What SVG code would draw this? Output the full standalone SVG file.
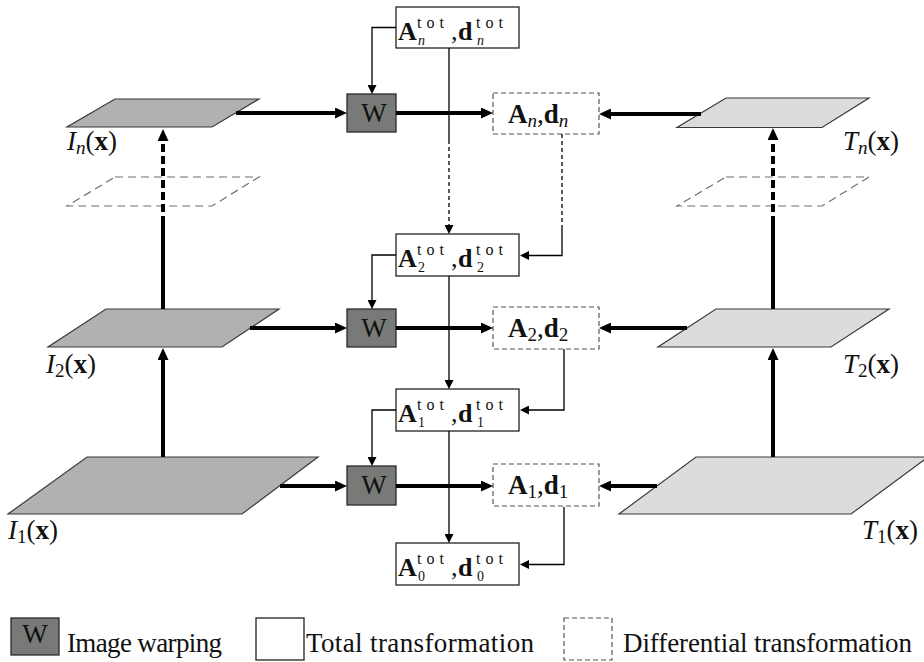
<svg xmlns="http://www.w3.org/2000/svg" width="924" height="662" viewBox="0 0 924 662">
<style>
text{font-family:"Liberation Serif","Times New Roman",serif;fill:#111}
.img{fill:#b2b0b3;stroke:#3a3a3a;stroke-width:1.2}
.tpl{fill:#dcdbdd;stroke:#3a3a3a;stroke-width:1.2}
.ghost{fill:none;stroke:#6e6e6e;stroke-width:1.2;stroke-dasharray:8 5}
.tot{fill:#fff;stroke:#222;stroke-width:1.3}
.diff{fill:#fff;stroke:#555;stroke-width:1.2;stroke-dasharray:5 3}
.w{fill:#777a76;stroke:#2a2a2a;stroke-width:1.3}
.thick{fill:none;stroke:#000;stroke-width:4;marker-end:url(#ah)}
.thickd{fill:none;stroke:#000;stroke-width:4;stroke-dasharray:8 4;marker-end:url(#ah)}
.thickp{fill:none;stroke:#000;stroke-width:4}
.thin{fill:none;stroke:#000;stroke-width:1.3;marker-end:url(#at)}
.thinp{fill:none;stroke:#000;stroke-width:1.3}
.thind{fill:none;stroke:#000;stroke-width:1.3;stroke-dasharray:4 3;marker-end:url(#at)}
.thindp{fill:none;stroke:#000;stroke-width:1.3;stroke-dasharray:4 3}
.wt{font-size:27px;text-anchor:middle}
.mb{font-weight:bold}
.it{font-style:italic}
.lab{font-size:27px}
.leg{font-size:27px}
.tb{font-size:26px}
.sup{font-size:16px}
.sub{font-size:14px}
.db{font-size:27px}
</style>
<defs>
<marker id="ah" markerUnits="userSpaceOnUse" markerWidth="12" markerHeight="11" refX="4" refY="5.5" orient="auto"><path d="M0,0 L12,5.5 L0,11 z" fill="#000"/></marker>
<marker id="at" markerUnits="userSpaceOnUse" markerWidth="9" markerHeight="9" refX="3" refY="4.5" orient="auto"><path d="M0,0 L9,4.5 L0,9 z" fill="#000"/></marker>
</defs>

<g id="ghost-planes">
<polygon class="ghost" points="115,177 259,177 212,206 67,206"/>
<polygon class="ghost" points="726,177 869,177 822,206 677,206"/>
</g>

<g id="In">
<polygon class="img" points="115,99 259,99 212,127 67,127"/>
<text class="lab" x="67" y="150"><tspan class="it">I</tspan><tspan class="it" font-size="19" dy="4">n</tspan><tspan dy="-4">(</tspan><tspan class="mb">x</tspan>)</text>
</g>
<g id="I2">
<polygon class="img" points="106,309 279,309 222,347 48,347"/>
<text class="lab" x="46" y="373"><tspan class="it">I</tspan><tspan font-size="19" dy="4">2</tspan><tspan dy="-4">(</tspan><tspan class="mb">x</tspan>)</text>
</g>
<g id="I1">
<polygon class="img" points="87,457 318,457 242,514 8,514"/>
<text class="lab" x="8" y="539"><tspan class="it">I</tspan><tspan font-size="19" dy="4">1</tspan><tspan dy="-4">(</tspan><tspan class="mb">x</tspan>)</text>
</g>
<g id="Tn">
<polygon class="tpl" points="726,98 869,98 822,127.5 677,127.5"/>
<text class="lab" x="843" y="150"><tspan class="it">T</tspan><tspan class="it" font-size="19" dy="4">n</tspan><tspan dy="-4">(</tspan><tspan class="mb">x</tspan>)</text>
</g>
<g id="T2">
<polygon class="tpl" points="716,309 889,309 831,347 658,347"/>
<text class="lab" x="843" y="373"><tspan class="it">T</tspan><tspan font-size="19" dy="4">2</tspan><tspan dy="-4">(</tspan><tspan class="mb">x</tspan>)</text>
</g>
<g id="T1">
<polygon class="tpl" points="696,457 928,457 851,514 619,514"/>
<text class="lab" x="862" y="539"><tspan class="it">T</tspan><tspan font-size="19" dy="4">1</tspan><tspan dy="-4">(</tspan><tspan class="mb">x</tspan>)</text>
</g>

<g id="tot-n">
<rect class="tot" x="396" y="7" width="123" height="41"/>
<text class="tb"><tspan class="mb" x="398" y="40">A</tspan><tspan class="sup" x="417" y="28" textLength="27" lengthAdjust="spacing">tot</tspan><tspan class="sub it" x="418" y="45">n</tspan><tspan x="451" y="40">,</tspan><tspan class="mb" x="458" y="40">d</tspan><tspan class="sup" x="476" y="28" textLength="27" lengthAdjust="spacing">tot</tspan><tspan class="sub it" x="477" y="45">n</tspan></text>
</g>
<g id="tot-2">
<rect class="tot" x="396" y="234" width="123" height="42"/>
<text class="tb"><tspan class="mb" x="398" y="267">A</tspan><tspan class="sup" x="417" y="255" textLength="27" lengthAdjust="spacing">tot</tspan><tspan class="sub" x="418" y="272">2</tspan><tspan x="451" y="267">,</tspan><tspan class="mb" x="458" y="267">d</tspan><tspan class="sup" x="476" y="255" textLength="27" lengthAdjust="spacing">tot</tspan><tspan class="sub" x="477" y="272">2</tspan></text>
</g>
<g id="tot-1">
<rect class="tot" x="396" y="389" width="123" height="42"/>
<text class="tb"><tspan class="mb" x="398" y="422">A</tspan><tspan class="sup" x="417" y="410" textLength="27" lengthAdjust="spacing">tot</tspan><tspan class="sub" x="418" y="427">1</tspan><tspan x="451" y="422">,</tspan><tspan class="mb" x="458" y="422">d</tspan><tspan class="sup" x="476" y="410" textLength="27" lengthAdjust="spacing">tot</tspan><tspan class="sub" x="477" y="427">1</tspan></text>
</g>
<g id="tot-0">
<rect class="tot" x="396" y="543" width="123" height="42"/>
<text class="tb"><tspan class="mb" x="398" y="576">A</tspan><tspan class="sup" x="417" y="564" textLength="27" lengthAdjust="spacing">tot</tspan><tspan class="sub" x="418" y="581">0</tspan><tspan x="451" y="576">,</tspan><tspan class="mb" x="458" y="576">d</tspan><tspan class="sup" x="476" y="564" textLength="27" lengthAdjust="spacing">tot</tspan><tspan class="sub" x="477" y="581">0</tspan></text>
</g>

<g id="W-n">
<rect class="w" x="347" y="94" width="49" height="38"/>
<text class="wt" x="374" y="122">W</text>
</g>
<g id="W-2">
<rect class="w" x="347" y="309" width="49" height="38"/>
<text class="wt" x="374" y="337">W</text>
</g>
<g id="W-1">
<rect class="w" x="347" y="466" width="49" height="39"/>
<text class="wt" x="374" y="494">W</text>
</g>

<g id="diff-n">
<rect class="diff" x="493" y="93" width="106" height="41"/>
<text class="db" x="508" y="123"><tspan class="mb">A</tspan><tspan class="it" font-size="19" dy="4">n</tspan><tspan dy="-4">,</tspan><tspan class="mb">d</tspan><tspan class="it" font-size="19" dy="4">n</tspan></text>
</g>
<g id="diff-2">
<rect class="diff" x="493" y="307" width="106" height="42"/>
<text class="db" x="508" y="337"><tspan class="mb">A</tspan><tspan font-size="19" dy="4">2</tspan><tspan dy="-4">,</tspan><tspan class="mb">d</tspan><tspan font-size="19" dy="4">2</tspan></text>
</g>
<g id="diff-1">
<rect class="diff" x="493" y="464" width="106" height="42"/>
<text class="db" x="508" y="494"><tspan class="mb">A</tspan><tspan font-size="19" dy="4">1</tspan><tspan dy="-4">,</tspan><tspan class="mb">d</tspan><tspan font-size="19" dy="4">1</tspan></text>
</g>

<g id="connectors">
<path class="thick" d="M236,113 H339"/>
<path class="thick" d="M396,113 H485"/>
<path class="thick" d="M701,114 H607"/>
<path class="thick" d="M250,328 H339"/>
<path class="thick" d="M396,328 H485"/>
<path class="thick" d="M687,328 H607"/>
<path class="thick" d="M280,486 H339"/>
<path class="thick" d="M396,486 H485"/>
<path class="thick" d="M657,486 H607"/>
<path class="thick" d="M163,457 V356"/>
<path class="thickp" d="M163,309 V224"/>
<path class="thickd" d="M163,224 V137"/>
<path class="thick" d="M773,457 V356"/>
<path class="thickp" d="M773,309 V224"/>
<path class="thickd" d="M773,224 V136"/>
<path class="thin" d="M396,27.5 H372 V88"/>
<path class="thin" d="M396,255 H372 V303"/>
<path class="thin" d="M396,410 H372 V460"/>
<path class="thinp" d="M449,48 V140"/>
<path class="thind" d="M449,140 V228"/>
<path class="thin" d="M449,276 V383"/>
<path class="thin" d="M449,431 V537"/>
<path class="thindp" d="M562,134 V225"/>
<path class="thin" d="M562,225 V255.5 H526"/>
<path class="thin" d="M564,349 V410 H526"/>
<path class="thin" d="M564,507 V564.5 H526"/>
</g>

<g id="legend">
<rect class="w" x="11" y="618" width="48" height="37"/>
<text class="wt" x="35" y="643">W</text>
<text class="leg" x="67" y="652" textLength="155" lengthAdjust="spacing">Image warping</text>
<rect class="tot" x="256" y="618" width="48" height="42"/>
<text class="leg" x="306" y="652" textLength="228" lengthAdjust="spacing">Total transformation</text>
<rect class="diff" x="564" y="618" width="48" height="42"/>
<text class="leg" x="623" y="652" textLength="289" lengthAdjust="spacing">Differential transformation</text>
</g>
</svg>
